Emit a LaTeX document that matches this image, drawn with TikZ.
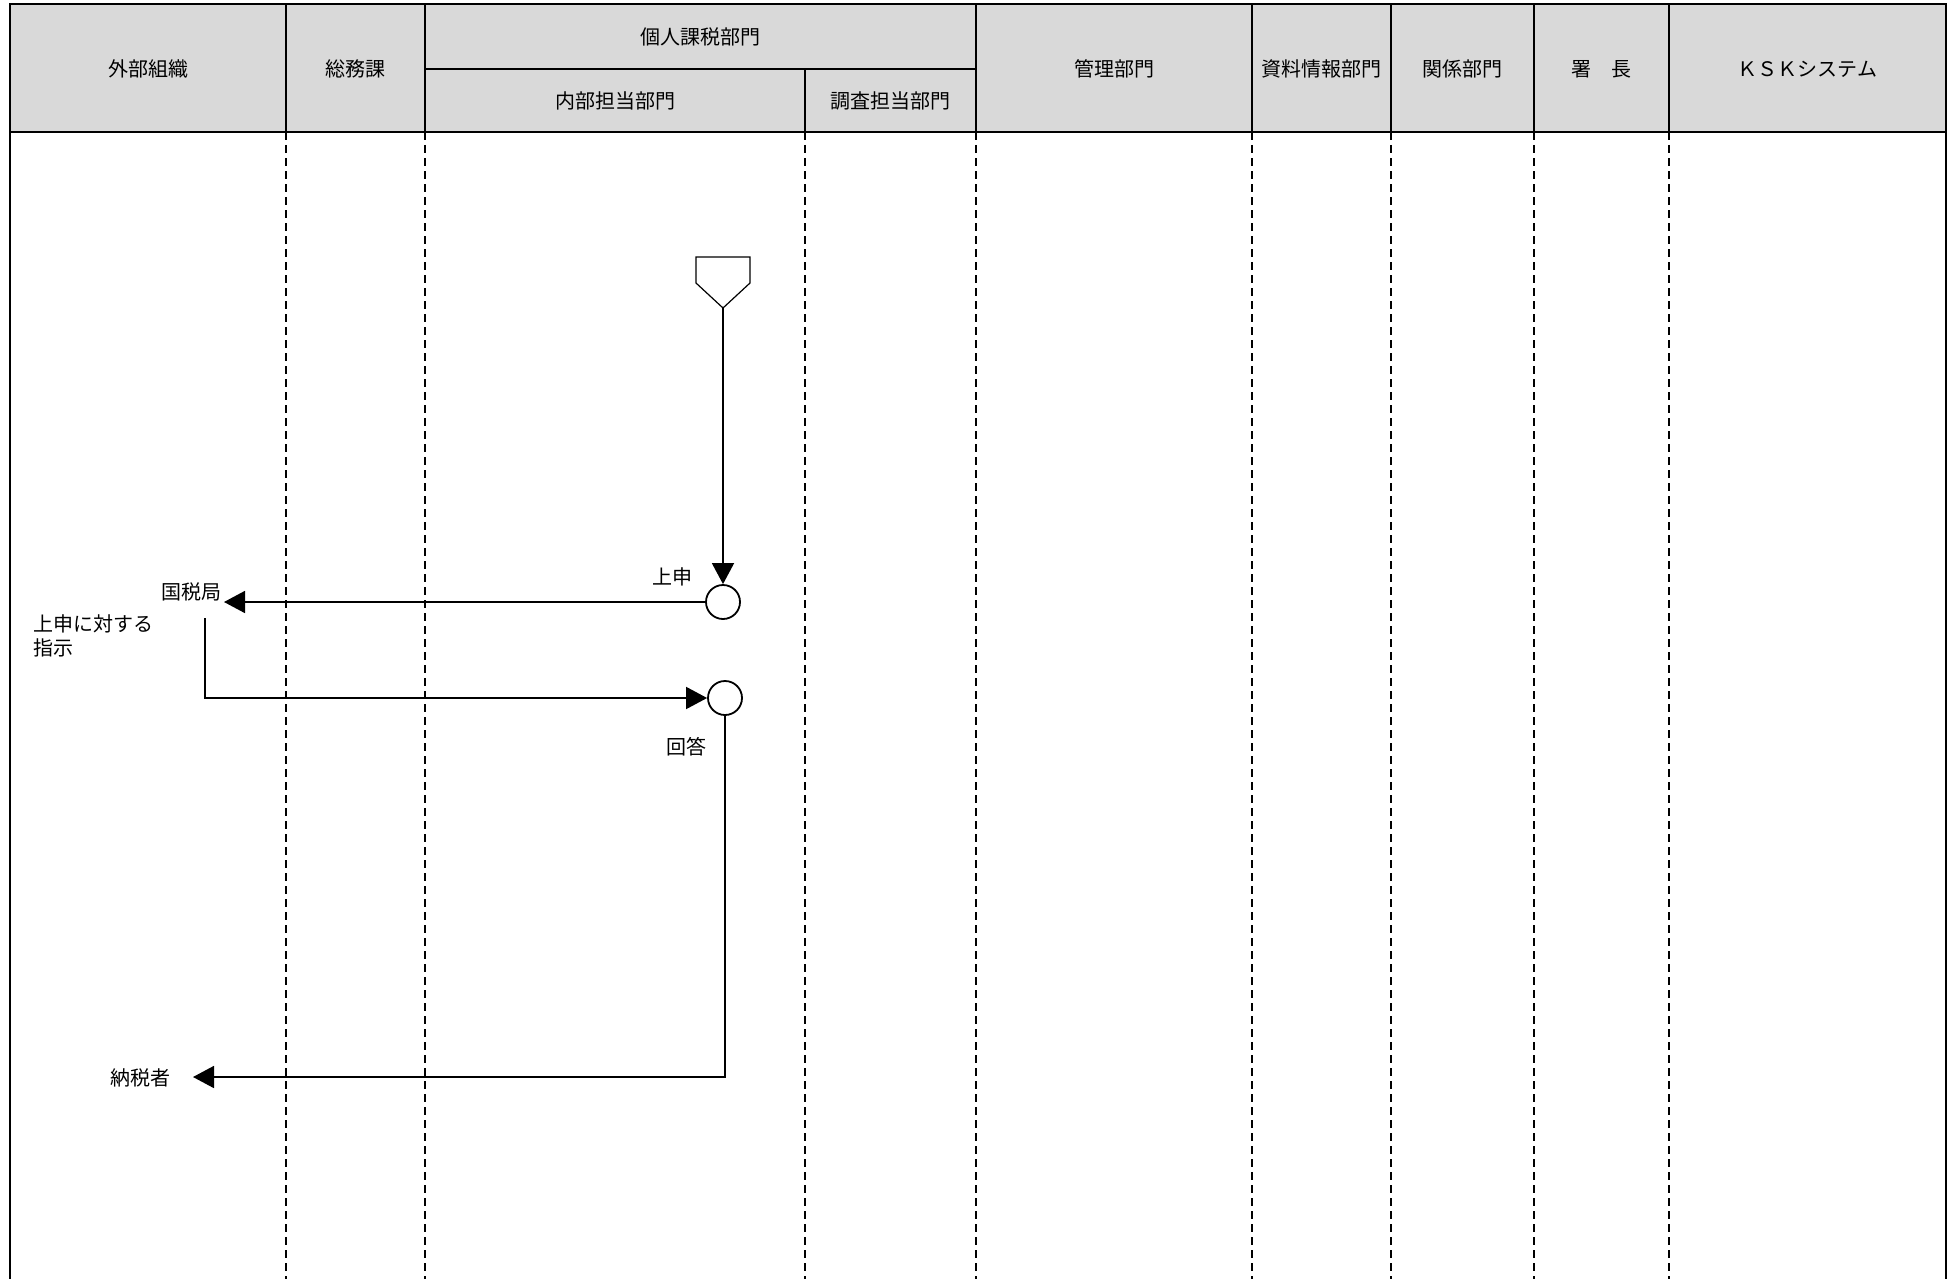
\documentclass[tikz,border=0pt]{standalone}
\usepackage{fontspec}
\setmainfont{Noto Sans CJK JP}
\usetikzlibrary{arrows.meta}
\definecolor{hdrgray}{HTML}{D9D9D9}
\begin{document}
\begin{tikzpicture}[x=0.5pt,y=-0.5pt,
  txt/.style={font=\fontsize{10pt}{12pt}\selectfont, inner sep=0pt},
  lane/.style={dash pattern=on 4pt off 2.5pt, line width=1pt},
  hdrline/.style={line width=1.2pt},
  flow/.style={line width=0.85pt},
  tip/.style={-{Triangle[length=10.5pt,width=11pt]}},
  state/.style={circle, draw, line width=0.9pt, minimum size=17pt, inner sep=0pt}]
\useasboundingbox (0,0) rectangle (1959,1279);
% header
\draw[hdrline, fill=hdrgray] (10,4) rectangle (1946,132);
\foreach \x in {286,425,976,1252,1391,1534,1669}
  \draw[hdrline] (\x,4) -- (\x,132);
\draw[hdrline] (425,69) -- (976,69);
\draw[hdrline] (805,69) -- (805,132);
\node[txt] (h1) at (148,69) {外部組織};
\node[txt] (h2) at (355.5,69) {総務課};
\node[txt] (h3) at (700.5,37) {個人課税部門};
\node[txt] (h3a) at (615,101) {内部担当部門};
\node[txt] (h3b) at (890.5,101) {調査担当部門};
\node[txt] (h4) at (1114,69) {管理部門};
\node[txt] (h5) at (1321.5,69) {資料情報部門};
\node[txt] (h6) at (1462.5,69) {関係部門};
\node[txt] (h7) at (1601.5,69) {署　長};
\node[txt] (h8) at (1807.5,69) {ＫＳＫシステム};
% lanes
\foreach \x in {286,425,805,976,1252,1391,1534,1669}
  \draw[lane] (\x,132) -- (\x,1279);
\draw[line width=1pt] (10,132) -- (10,1279);
\draw[line width=1pt] (1946,132) -- (1946,1279);
% start symbol
\draw[line width=0.6pt] (696,257) -- (750,257) -- (750,283) -- (723,308) -- (696,283) -- cycle;
\coordinate (start) at (723,308);
% states
\node[state] (c1) at (723,602) {};
\node[state] (c2) at (725,698) {};
% labels
\node[txt] (joushin) at (672,577) {上申};
\node[txt] (kz) at (191,592) {国税局};
\coordinate (kzt) at (224,602);
\node[txt, align=left, anchor=west] (shiji) at (33,636) {上申に対する\\指示};
\coordinate (shs) at (205,618);
\node[txt] (kaitou) at (686,747) {回答};
\node[txt] (nz) at (140,1078) {納税者};
\coordinate (nzt) at (193,1077);
% connectors
\draw[flow,tip] (start) -- (c1.north);
\draw[flow,tip] (c1.west) -- (kzt);
\draw[flow,tip] (shs) |- (c2.west);
\draw[flow,tip] (c2.south) |- (nzt);
\end{tikzpicture}
\end{document}
